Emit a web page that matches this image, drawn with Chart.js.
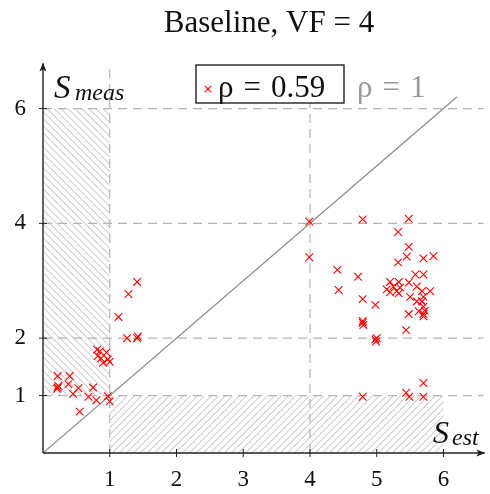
<!DOCTYPE html>
<html><head><meta charset="utf-8">
<script src="https://cdn.jsdelivr.net/npm/chart.js@4.4.1/dist/chart.umd.min.js"></script>
<style>html,body{margin:0;padding:0;background:#fff;}</style>
</head><body>
<canvas id="c" width="490" height="494" style="width:490px;height:494px;display:block"></canvas>
<script>
// ---- data ----
const titleText = 'Baseline, VF = 4';
const seriesLabel = 'ρ = 0.59';
const refLabel = 'ρ = 1';
const xAxisLabel = ['S', 'est'];
const yAxisLabel = ['S', 'meas'];
const sEst = [
  0.22,0.40,0.22,0.23,0.21,0.38,0.53,0.45,0.75,0.68,0.80,0.97,1.00,0.55,
  0.81,0.85,0.95,0.82,0.87,0.97,0.90,1.00,
  1.41,1.28,1.13,1.26,1.41,1.42,
  3.99,4.79,3.99,4.41,4.72,4.43,4.79,4.98,4.79,4.80,4.79,4.98,4.99,5.00,4.79,
  5.48,5.32,5.48,5.45,5.32,5.70,5.85,5.58,5.70,
  5.20,5.33,5.48,5.15,5.25,5.30,5.33,5.20,5.35,
  5.60,5.68,5.80,5.50,5.60,5.68,5.70,5.70,5.72,5.70,5.70,5.48,5.63,5.44,
  5.44,5.49,5.70,5.70
];
const sMeas = [
  1.34,1.34,1.14,1.17,1.12,1.20,1.13,1.03,1.14,0.98,0.92,0.99,0.90,0.72,
  1.80,1.77,1.75,1.69,1.65,1.63,1.57,1.59,
  2.98,2.77,2.37,2.00,2.00,2.03,
  4.03,4.07,3.41,3.19,3.07,2.84,2.68,2.58,2.27,2.23,2.30,1.98,1.94,2.00,0.98,
  4.08,3.85,3.59,3.42,3.32,3.39,3.43,3.11,3.11,
  2.98,2.98,2.97,2.85,2.90,2.82,2.78,2.80,2.88,
  2.90,2.82,2.82,2.72,2.64,2.64,2.72,2.55,2.48,2.42,2.38,2.42,2.47,2.14,
  1.05,0.98,0.98,1.22
];
const refLine = [0, 6.2];
const xTicks = [1,2,3,4,5,6];
const yTicks = [1,2,4,6];
const xGrid = [1,4];
const yGrid = [1,2,4,6];
const xRange = [0, 6.6];
const yRange = [0, 6.75];
const hatchLeft = {x:[0,1], y:[1,6]};
const hatchBottom = {x:[1,6], y:[0,1]};

const SERIF = "'Liberation Serif', serif";
const RED = 'rgb(255,0,0)';

function spacedText(ctx, text, x0, yb, gap) {
  let xx = x0;
  text.split(' ').forEach(part => {
    ctx.fillText(part, xx, yb);
    xx += ctx.measureText(part).width + gap;
  });
}

const deco = {
  id: 'deco',
  beforeDatasetsDraw(chart) {
    const {ctx, chartArea: a, scales: {x, y}} = chart;
    ctx.save();
    function hatch(r, dir) {
      const x0 = x.getPixelForValue(r.x[0]), x1 = x.getPixelForValue(r.x[1]);
      const yt = y.getPixelForValue(r.y[1]), yb = y.getPixelForValue(r.y[0]);
      const h = yb - yt;
      ctx.save();
      ctx.beginPath(); ctx.rect(x0, yt, x1 - x0, h); ctx.clip();
      ctx.strokeStyle = '#b8b8b8'; ctx.lineWidth = 1;
      ctx.beginPath();
      for (let k = x0 - h - 10; k < x1 + 10; k += 7) {
        if (dir > 0) { ctx.moveTo(k, yb); ctx.lineTo(k + h, yt); }
        else { ctx.moveTo(k, yt); ctx.lineTo(k + h, yb); }
      }
      ctx.stroke();
      ctx.restore();
    }
    hatch(hatchLeft, -1);
    hatch(hatchBottom, 1);
    ctx.strokeStyle = '#b3b3b3'; ctx.lineWidth = 1.2; ctx.setLineDash([9, 6]);
    xGrid.forEach(v => { const p = x.getPixelForValue(v); ctx.beginPath(); ctx.moveTo(p, a.bottom); ctx.lineTo(p, a.top); ctx.stroke(); });
    yGrid.forEach(v => { const p = y.getPixelForValue(v); ctx.beginPath(); ctx.moveTo(a.left, p); ctx.lineTo(a.right, p); ctx.stroke(); });
    ctx.setLineDash([]);
    ctx.restore();
  },
  afterDatasetsDraw(chart) {
    const {ctx, chartArea: a, scales: {x, y}} = chart;
    ctx.save();
    const ox = x.getPixelForValue(0), oy = y.getPixelForValue(0);
    ctx.strokeStyle = '#222'; ctx.fillStyle = '#222'; ctx.lineWidth = 1.4;
    ctx.beginPath(); ctx.moveTo(ox, oy); ctx.lineTo(ox, a.top - 2); ctx.stroke();
    ctx.beginPath(); ctx.moveTo(ox, oy); ctx.lineTo(a.right + 1, oy); ctx.stroke();
    const ty = a.top - 3;
    ctx.beginPath(); ctx.moveTo(ox, ty); ctx.lineTo(ox - 3.5, ty + 9); ctx.lineTo(ox, ty + 7); ctx.lineTo(ox + 3.5, ty + 9); ctx.closePath(); ctx.fill();
    const tx = a.right + 2;
    ctx.beginPath(); ctx.moveTo(tx, oy); ctx.lineTo(tx - 9, oy - 3.5); ctx.lineTo(tx - 7, oy); ctx.lineTo(tx - 9, oy + 3.5); ctx.closePath(); ctx.fill();
    ctx.lineWidth = 1;
    xTicks.forEach(v => { const p = x.getPixelForValue(v); ctx.beginPath(); ctx.moveTo(p, oy - 4); ctx.lineTo(p, oy + 4); ctx.stroke(); });
    yTicks.forEach(v => { const p = y.getPixelForValue(v); ctx.beginPath(); ctx.moveTo(ox - 4, p); ctx.lineTo(ox + 4, p); ctx.stroke(); });
    // axis labels
    ctx.fillStyle = '#111'; ctx.textBaseline = 'alphabetic'; ctx.textAlign = 'left';
    ctx.font = 'italic 33px ' + SERIF; ctx.fillText(yAxisLabel[0], 54, 98);
    ctx.font = 'italic 24px ' + SERIF; ctx.fillText(yAxisLabel[1], 75, 100);
    ctx.font = 'italic 32px ' + SERIF; ctx.fillText(xAxisLabel[0], 433, 443);
    ctx.font = 'italic 24px ' + SERIF; ctx.fillText(xAxisLabel[1], 452, 445);
    // legend box
    const bx = 196, by = 65, bw = 148, bh = 38;
    ctx.fillStyle = '#fff'; ctx.fillRect(bx, by, bw, bh);
    ctx.strokeStyle = '#111'; ctx.lineWidth = 1.3; ctx.strokeRect(bx, by, bw, bh);
    ctx.strokeStyle = RED; ctx.lineWidth = 1.1;
    const mx = 208, my = 89, ms = 3.2;
    ctx.beginPath(); ctx.moveTo(mx - ms, my - ms); ctx.lineTo(mx + ms, my + ms); ctx.moveTo(mx + ms, my - ms); ctx.lineTo(mx - ms, my + ms); ctx.stroke();
    ctx.font = '31px ' + SERIF;
    ctx.fillStyle = '#111';
    spacedText(ctx, seriesLabel, 218, 97, 10);
    ctx.fillStyle = '#999';
    spacedText(ctx, refLabel, 357, 97, 10);
    // title
    ctx.fillStyle = '#111'; ctx.textAlign = 'center'; ctx.font = '31px ' + SERIF;
    ctx.fillText(titleText, 269, 32);
    ctx.restore();
  }
};

new Chart(document.getElementById('c'), {
  type: 'scatter',
  data: {
    datasets: [
      {
        label: seriesLabel,
        data: sEst.map((v, i) => ({x: v, y: sMeas[i]})),
        pointStyle: 'crossRot', pointRadius: 5.4, borderColor: RED, borderWidth: 1.1,
        backgroundColor: RED, hoverBorderColor: RED, hoverBackgroundColor: RED,
        hoverRadius: 5.4, hoverBorderWidth: 1.1, showLine: false
      },
      {
        type: 'line', label: refLabel,
        data: refLine.map(v => ({x: v, y: v})),
        borderColor: '#8a8a8a', borderWidth: 1.2, pointRadius: 0, pointHoverRadius: 0, fill: false
      }
    ]
  },
  options: {
    responsive: false, animation: false, devicePixelRatio: 1, events: [],
    layout: {padding: {top: 65.5, right: 3, left: 0, bottom: 0}},
    plugins: {legend: {display: false}, tooltip: {enabled: false}, title: {display: false}},
    scales: {
      x: {
        type: 'linear', min: xRange[0], max: xRange[1],
        grid: {display: false, drawTicks: false}, border: {display: false},
        ticks: {font: {family: SERIF, size: 23}, color: '#111', padding: 13, callback: v => String(v)},
        afterBuildTicks: s => { s.ticks = xTicks.map(v => ({value: v})); },
        afterFit: s => { s.height = 41; }
      },
      y: {
        type: 'linear', min: yRange[0], max: yRange[1],
        grid: {display: false, drawTicks: false}, border: {display: false},
        ticks: {font: {family: SERIF, size: 23}, color: '#111', padding: 17, callback: v => String(v)},
        afterBuildTicks: s => { s.ticks = yTicks.map(v => ({value: v})); },
        afterFit: s => { s.width = 43; }
      }
    }
  },
  plugins: [deco]
});
</script>
</body></html>
